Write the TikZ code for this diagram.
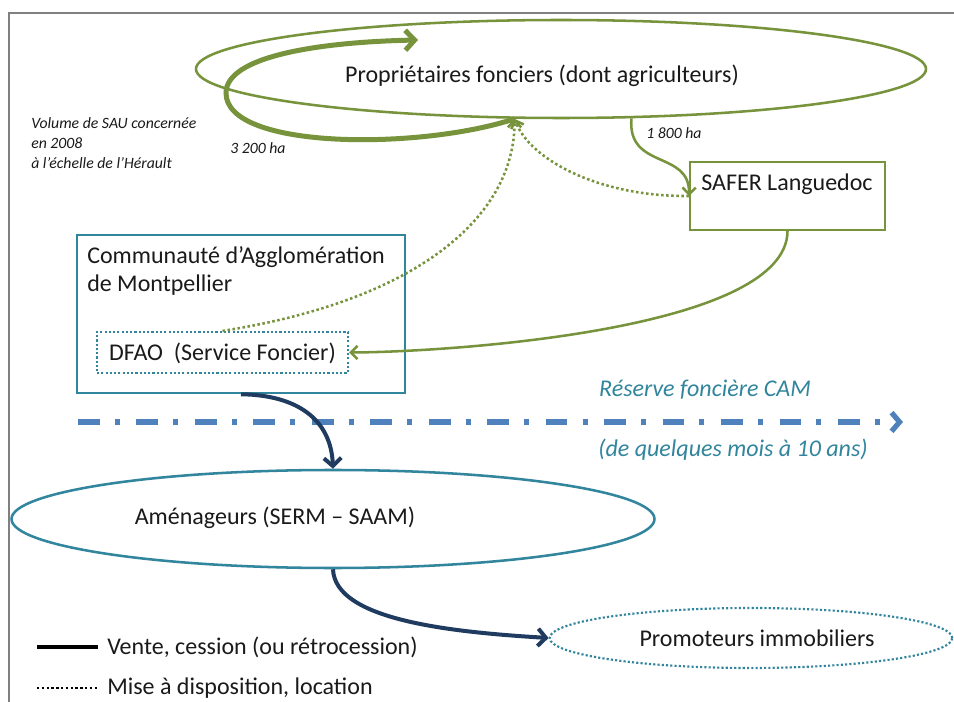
\documentclass[tikz,border=0pt]{standalone}
\usepackage{fontspec}
\setmainfont{Carlito}
\usetikzlibrary{arrows.meta,shapes.geometric}
\definecolor{grn}{HTML}{77933C}
\definecolor{teal}{HTML}{31859C}
\definecolor{bluel}{HTML}{4F81BD}
\definecolor{navy}{HTML}{1F3B5F}
\definecolor{txt}{HTML}{1A1A1A}
\definecolor{frame}{HTML}{808080}
\begin{document}
\begin{tikzpicture}[x=0.75pt,y=-0.75pt,
  lbl/.style={text=txt,font=\fontsize{18}{21}\selectfont,inner sep=0pt},
  small/.style={text=txt,font=\fontsize{11.8}{13.2}\selectfont\itshape,inner sep=0pt},
  gsolid/.style={draw=grn,line width=1.9pt,-{Straight Barb[length=5pt,width=10pt]}},
  gdot/.style={draw=grn,line width=1.9pt,dash pattern=on 1.9pt off 1.9pt,-{Straight Barb[length=5pt,width=10pt]}},
  nvarrow/.style={draw=navy,line width=3pt,-{Straight Barb[length=6pt,width=13pt]}}]
\useasboundingbox (0,0) rectangle (954,702);
\fill[white] (0,0) rectangle (954,702);
\draw[frame,line width=1.2pt] (9,702) -- (9,13) -- (954,13);

% nodes
\node[ellipse,draw=grn,line width=1.9pt,minimum width=547.5pt,minimum height=73.5pt,inner sep=0pt] (prop) at (561,69) {};
\node[lbl] (propt) at (542,76) {Propriétaires fonciers (dont agriculteurs)};

\node[draw=grn,line width=1.6pt,minimum width=146.25pt,minimum height=51pt,inner sep=0pt] (safer) at (787.5,196) {};
\node[lbl] (safert) at (787,184) {SAFER Languedoc};

\node[draw=teal,line width=1.9pt,minimum width=246pt,minimum height=118.5pt,inner sep=0pt] (cam) at (241,314) {};
\node[lbl,anchor=west,align=left,font=\fontsize{18}{21}\selectfont] (camt) at (87,271) {Communauté d’Agglomération\\de Montpellier};

\node[draw=teal,line width=1.6pt,dash pattern=on 1.6pt off 1.6pt,minimum width=188.25pt,minimum height=30.75pt,inner sep=0pt] (dfao) at (222.5,352.5) {};
\node[lbl] (dfaot) at (222.5,353) {DFAO~ (Service Foncier)};

\node[ellipse,draw=teal,line width=1.9pt,minimum width=482.25pt,minimum height=73.5pt,inner sep=0pt] (amen) at (333,519) {};
\node[lbl] (ament) at (275,518) {Aménageurs (SERM – SAAM)};

\node[ellipse,draw=teal,line width=1.6pt,dash pattern=on 1.6pt off 1.6pt,minimum width=302pt,minimum height=45pt,inner sep=0pt] (promo) at (751,638) {};
\node[lbl] (promot) at (757,638) {Promoteurs immobiliers};

\node[small,anchor=west,align=left] (sau) at (31,143) {Volume de SAU concernée\\[1.5pt]en 2008\\[1.5pt]à l’échelle de l’Hérault};
\node[small,anchor=west] (l3200) at (230,148) {3 200 ha};
\node[small,anchor=west] (l1800) at (646,133) {1 800 ha};

\node[font=\fontsize{18}{21}\selectfont\itshape,text=teal,inner sep=0pt] (res1) at (705,390) {Réserve foncière CAM};
\node[font=\fontsize{18}{21}\selectfont\itshape,text=teal,inner sep=0pt] (res2) at (733,450) {(de quelques mois à 10 ans)};

% connectors
\coordinate (tk) at (418,40);
\draw[grn,line width=3.75pt,-{Straight Barb[length=7pt,width=15pt]}] (prop.227) .. controls (420,150) and (226,150) .. (226,93) .. controls (226,56) and (320,42) .. (tk);
\draw[gdot] (safer.west) .. controls (600,197) and (530,160) .. (prop.227);
\draw[gdot] (dfao.north) .. controls (420,300) and (515,215) .. (prop.227);
\draw[gsolid] (prop.325) .. controls (627,170) and (690,150) .. (safer.west);
\draw[gsolid] (safer.south) .. controls (787,330) and (450,352) .. (dfao.east);

\coordinate (r0) at (78,422);
\coordinate (r1) at (903,422);
\draw[bluel,line width=3.9pt,dash pattern=on 16.3pt off 11.3pt on 3.75pt off 12.5pt,-{Straight Barb[length=6pt,width=14pt]}] (r0) -- (r1);

\draw[nvarrow] (cam.south) .. controls (298,395) and (331,420) .. (amen.north);
\draw[nvarrow] (amen.south) .. controls (335,620) and (450,632) .. (promo.west);

% legend
\coordinate (la0) at (37,647);
\coordinate (la1) at (98,647);
\coordinate (lb0) at (37,688);
\coordinate (lb1) at (98,688);
\draw[black,line width=2.4pt] (la0) -- (la1);
\draw[black,line width=1.8pt,dash pattern=on 1.8pt off 1.8pt] (lb0) -- (lb1);
\node[lbl,anchor=west] (lega) at (107,647) {Vente, cession (ou rétrocession)};
\node[lbl,anchor=west] (legb) at (107,688) {Mise à disposition, location};
\end{tikzpicture}
\end{document}
